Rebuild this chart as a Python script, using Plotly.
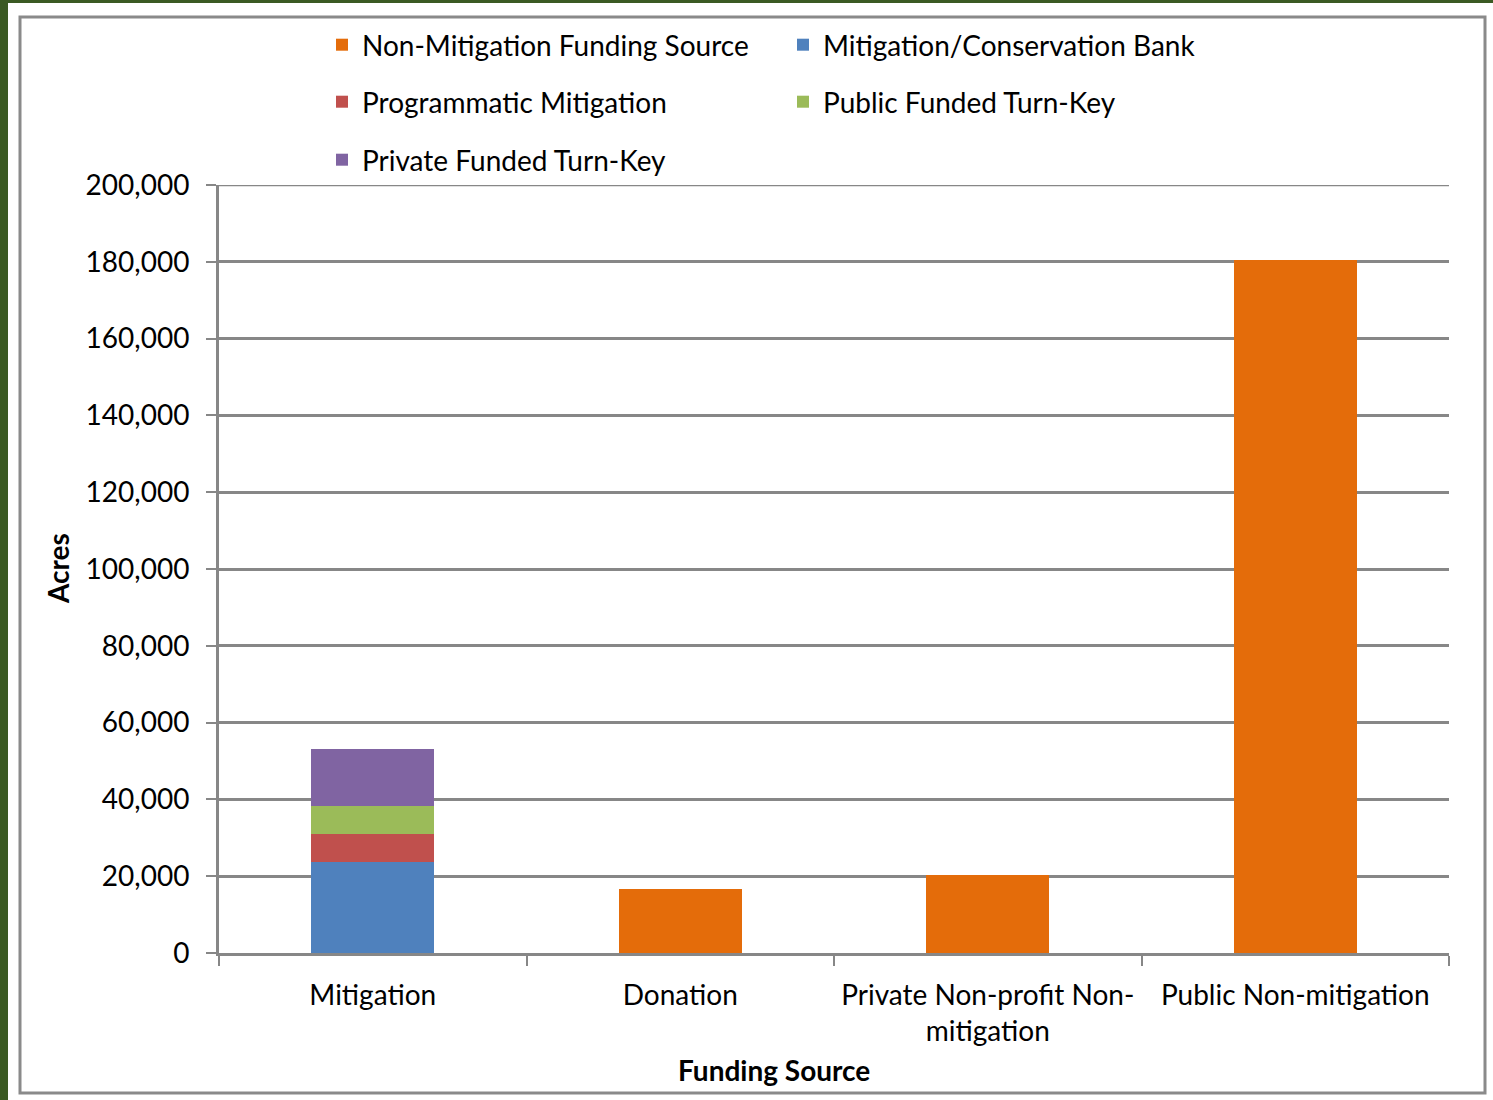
import plotly.graph_objects as go

categories = ["Mitigation", "Donation", "Private Non-profit Non-mitigation", "Public Non-mitigation"]
tick_labels = ["Mitigation", "Donation", "Private Non-profit Non-<br>mitigation", "Public Non-mitigation"]

non_mitigation = [None, 16600, 20200, 180500]
mitigation_bank = [23600, None, None, None]
programmatic = [7400, None, None, None]
public_turnkey = [7400, None, None, None]
private_turnkey = [14700, None, None, None]

y_max = 200000
y_step = 20000

series = [
    ("Non-Mitigation Funding Source", non_mitigation, "#E46C0A", "legend"),
    ("Mitigation/Conservation Bank", mitigation_bank, "#4F81BD", "legend"),
    ("Programmatic Mitigation", programmatic, "#C0504D", "legend2"),
    ("Public Funded Turn-Key", public_turnkey, "#9BBB59", "legend2"),
    ("Private Funded Turn-Key", private_turnkey, "#8064A2", "legend3"),
]

W, H = 1493, 1100
L, R, T, B = 219, 44, 185, 147
PW, PH = W - L - R, H - T - B

def px(x):
    return (x - L) / PW

def py(y):
    return (H - B - y) / PH

FONT = "Lato"
GRID = "#878787"

fig = go.Figure()
for name, vals, color, lg in series:
    fig.add_trace(go.Bar(
        x=categories, y=vals, name=name, marker=dict(color=color, line=dict(width=0)),
        width=0.4, legend=lg,
    ))

leg_common = dict(orientation="h", xanchor="left", yanchor="middle", traceorder="normal",
                  entrywidth=416, font=dict(family=FONT, size=28, color="#000"),
                  bgcolor="rgba(0,0,0,0)", itemwidth=30)

fig.update_layout(
    width=W, height=H,
    margin=dict(l=L, r=R, t=T, b=B),
    barmode="stack",
    paper_bgcolor="white", plot_bgcolor="white",
    font=dict(family=FONT, size=28, color="#000"),
    legend=dict(x=px(322), y=py(45), **leg_common),
    legend2=dict(x=px(322), y=py(102), **leg_common),
    legend3=dict(x=px(322), y=py(160), **leg_common),
    xaxis=dict(
        type="category", tickvals=categories, ticktext=tick_labels,
        showline=True, linecolor=GRID, linewidth=3,
        ticks="outside", tickson="boundaries", ticklen=10, tickwidth=2, tickcolor=GRID,
        showgrid=False, tickfont=dict(family=FONT, size=28, color="#000"),
        ticklabelstandoff=15,
    ),
    yaxis=dict(
        range=[0, y_max], dtick=y_step, tickformat=",",
        showline=True, linecolor=GRID, linewidth=3,
        ticks="outside", ticklen=10, tickwidth=2, tickcolor=GRID,
        showgrid=True, gridcolor=GRID, gridwidth=2.5, zeroline=False,
        tickfont=dict(family=FONT, size=28, color="#000"),
        ticklabelstandoff=11,
    ),
    annotations=[
        dict(text="<b>Acres</b>", x=px(58), y=0.5, xref="paper", yref="paper",
             xanchor="center", yanchor="middle",
             textangle=-90, showarrow=False, font=dict(family=FONT, size=28, color="#000")),
        dict(text="<b>Funding Source</b>", x=px(774), y=py(1070), xref="paper", yref="paper",
             xanchor="center", yanchor="middle",
             showarrow=False, font=dict(family=FONT, size=28, color="#000")),
    ],
    shapes=[
        dict(type="rect", xref="paper", yref="paper", x0=px(20), x1=px(1485), y0=py(1093), y1=py(17),
             line=dict(color="#8a8a8a", width=3), layer="below"),
        dict(type="rect", xref="paper", yref="paper", x0=px(0), x1=px(8), y0=py(1100), y1=py(0),
             line=dict(width=0), fillcolor="#3B5A23", layer="below"),
        dict(type="rect", xref="paper", yref="paper", x0=px(0), x1=px(1493), y0=py(3), y1=py(0),
             line=dict(width=0), fillcolor="#3B5A23", layer="below"),
        dict(type="line", xref="paper", yref="y", x0=0, x1=1, y0=y_max, y1=y_max,
             line=dict(color=GRID, width=2.5), layer="below"),
    ],
)

fig.write_html("out.html", config={"displayModeBar": False},
               post_script="document.body.style.margin='0';document.body.style.overflow='hidden';")
